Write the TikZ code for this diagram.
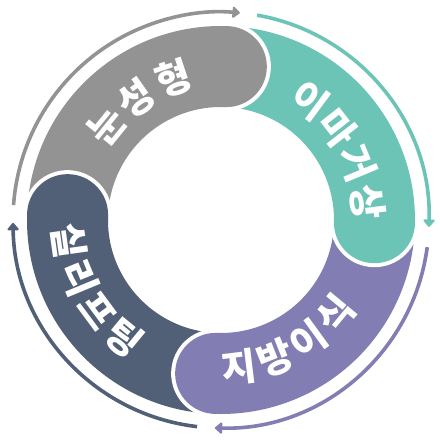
\documentclass[tikz,border=0pt]{standalone}
\usepackage{fontspec}
\usepackage{xcolor}
\usepackage{tikz}
\usetikzlibrary{arrows.meta}
\usetikzlibrary{backgrounds}
\usetikzlibrary{calc}
\newfontfamily\krfont{Noto Sans CJK KR}
\pgfdeclarelayer{edgelayer}
\pgfdeclarelayer{nodelayer}
\pgfsetlayers{background,edgelayer,nodelayer,main}
\definecolor{segGray}{RGB}{147,147,147}
\definecolor{segTeal}{RGB}{108,196,183}
\definecolor{segPurple}{RGB}{130,125,178}
\definecolor{segSlate}{RGB}{81,96,118}
\tikzstyle{band}=[line width=81pt]
\tikzstyle{ring arrow}=[line width=3.6pt,-{Triangle[width=13pt,length=8pt,round]}]
\tikzstyle{glyph}=[inner sep=0mm,text=white,font=\krfont\bfseries\fontsize{38}{38}\selectfont]
\newcommand{\capblob}[2]{%
	\fill[white] ($(#1:153.5)+(#1:44.5)$) arc[start angle=#1, end angle=#1-180, radius=44.5] -- cycle;
	\fill[#2] (#1:153.5) circle[radius=40.5];}
\begin{document}
\begin{tikzpicture}[x=1pt,y=1pt]
	\useasboundingbox (-221,-220) rectangle (219,220);
	\begin{pgfonlayer}{edgelayer}
		\draw[band,segGray] (178:153.5) arc[start angle=178, end angle=88, radius=153.5];
		\draw[band,segTeal] (88:153.5) arc[start angle=88, end angle=-1, radius=153.5];
		\draw[band,segPurple] (-1:153.5) arc[start angle=-1, end angle=-92, radius=153.5];
		\draw[band,segSlate] (-92:153.5) arc[start angle=-92, end angle=-182, radius=153.5];
		\draw[ring arrow,segGray] (175.9:208) arc[start angle=175.9, end angle=84.8, radius=208];
		\draw[ring arrow,segTeal] (80:208) arc[start angle=80, end angle=-1.9, radius=208];
		\draw[ring arrow,segPurple] (-7.5:208) arc[start angle=-7.5, end angle=-91.7, radius=208];
		\draw[ring arrow,segSlate] (-96.6:208) arc[start angle=-96.6, end angle=-179.2, radius=208];
	\end{pgfonlayer}
	\begin{pgfonlayer}{nodelayer}
		\capblob{88}{segGray}
		\capblob{-1}{segTeal}
		\capblob{-92}{segPurple}
		\capblob{178}{segSlate}
		% top left
		\node [style=glyph,rotate=50.8] (g1) at (140.8:148) {눈};
		\node [style=glyph,rotate=35] (g2) at (125:148) {성};
		\node [style=glyph,rotate=18.6] (g3) at (108.6:149) {형};
		% top right
		\node [style=glyph,rotate=-36.5] (t1) at (53.5:149) {이};
		\node [style=glyph,rotate=-52] (t2) at (38:148) {마};
		\node [style=glyph,rotate=-67.5] (t3) at (22.5:148) {거};
		\node [style=glyph,rotate=-83] (t4) at (7:148) {상};
		% bottom right
		\node [style=glyph,rotate=7] (p1) at (-83:148) {지};
		\node [style=glyph,rotate=21.5] (p2) at (-68.5:148) {방};
		\node [style=glyph,rotate=36] (p3) at (-54:148) {이};
		\node [style=glyph,rotate=50.5] (p4) at (-39.5:148) {식};
		% left
		\node [style=glyph,rotate=-82] (s1) at (188:153) {실};
		\node [style=glyph,rotate=-67.5] (s2) at (202.5:153) {리};
		\node [style=glyph,rotate=-53.5] (s3) at (216.5:153) {프};
		\node [style=glyph,rotate=-39.5] (s4) at (230.5:153) {팅};
	\end{pgfonlayer}
\end{tikzpicture}
\end{document}
